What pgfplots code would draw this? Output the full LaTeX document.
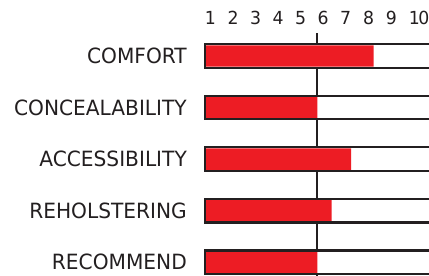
\documentclass[border=0pt]{standalone}
\usepackage{fontspec}
\setmainfont{DejaVu Sans}[FakeStretch=0.96]
\usepackage{pgfplots}
\pgfplotsset{compat=1.18}
\definecolor{barred}{HTML}{ED1C24}
\definecolor{ink}{HTML}{231F20}
\begin{document}
\begin{tikzpicture}[x=1bp,y=1bp]
\begin{axis}[
  at={(0,0)}, anchor=south west,
  scale only axis,
  width=226.25bp, height=243bp,
  xmin=-0.1, xmax=9.956,
  ymin=-0.2677, ymax=4.4462,
  axis line style={draw=none},
  major tick length=0pt,
  xtick={0.24,1.25,2.25,3.25,4.25,5.25,6.25,7.27,8.28,9.52},
  xticklabels={1,2,3,4,5,6,7,8,9,1\kern-1.5bp 0},
  xticklabel pos=upper,
  xticklabel style={anchor=south, inner sep=0pt, yshift=8bp, font=\fontsize{18bp}{20bp}\selectfont, text=ink},
  ytick={0,1,2,3,4},
  yticklabels={RECOMMEND,REHOLSTERING,ACCESSIBILITY,CONCEALABILITY,COMFORT},
  yticklabel style={anchor=east, inner sep=0pt, xshift=-15.75bp, font=\fontsize{21bp}{24bp}\selectfont, text=ink},
  clip=true,
]
\addplot[draw=ink, line width=2bp] coordinates {(5,-1) (5,4.4462)};
\addplot[xbar, bar shift=0pt, bar width=23.5bp, fill=white, draw=ink, line width=2.2bp] coordinates {(12,0) (12,1) (12,2) (12,3) (12,4)};
\addplot[xbar, bar shift=0pt, bar width=21.3bp, fill=barred, draw=none] coordinates {(5,0) (5.63,1) (6.5,2) (5,3) (7.5,4)};
\addplot[xbar, bar shift=0pt, bar width=23.5bp, fill=none, draw=ink, line width=2.2bp] coordinates {(12,0) (12,1) (12,2) (12,3) (12,4)};
\end{axis}
\pgfresetboundingbox
\useasboundingbox (-202.75bp,0) rectangle (226.25bp,276bp);
\end{tikzpicture}
\end{document}
